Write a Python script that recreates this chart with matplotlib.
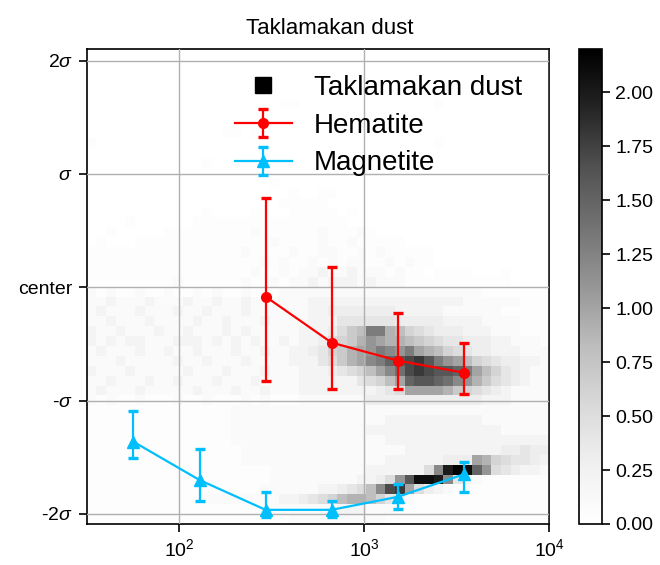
import numpy as np
import matplotlib
matplotlib.use("Agg")
import matplotlib.pyplot as plt
from matplotlib.lines import Line2D
from matplotlib.ticker import FixedLocator, NullLocator, FormatStrFormatter

plt.rcParams['font.family'] = ['Liberation Sans', 'DejaVu Sans']
plt.rcParams['mathtext.fontset'] = 'custom'
plt.rcParams['mathtext.rm'] = 'Liberation Sans'
plt.rcParams['mathtext.it'] = 'Liberation Sans:italic'
plt.rcParams['mathtext.bf'] = 'Liberation Sans:bold'

# ---------------- data ----------------
title = "Taklamakan dust"
dust_label = "Taklamakan dust"

hem_label = "Hematite"
hem_x = [293, 666, 1520, 3440]
hem_y = [-0.083, -0.489, -0.648, -0.754]
hem_lo = [-0.828, -0.901, -0.901, -0.943]
hem_hi = [0.786, 0.182, -0.230, -0.489]

mag_label = "Magnetite"
mag_x = [56.6, 128.8, 293, 666, 1520, 3440]
mag_y = [-1.364, -1.702, -1.965, -1.965, -1.850, -1.652]
mag_lo = [-1.505, -1.888, -2.028, -2.028, -1.955, -1.808]
mag_hi = [-1.090, -1.426, -1.808, -1.886, -1.738, -1.547]

y_ticks = [-2, -1, 0, 1, 2]
y_ticklabels = ['-2$\\sigma$', '-$\\sigma$', 'center', '$\\sigma$', '2$\\sigma$']
x_ticks = [1e2, 1e3, 1e4]
cbar_ticks = [0.0, 0.25, 0.5, 0.75, 1.0, 1.25, 1.5, 1.75, 2.0]
x_range = (10 ** 1.5, 1e4)
y_range = (-2.09, 2.10)
c_range = (0.0, 2.2)

# 2D density, rows from top (high y) to bottom (low y), 48 log-x columns.
# '0' = 0, '.' = 0.05, '1'..'9' = 0.1..0.9, 'a'..'m' = 1.0..2.2
hist_rows = [
    "00000000 00000000 00000000 00000000 00000000 00000000",
    "00000000 00000000 00000000 00000000 00000000 00000000",
    "00000000 00000000 00000000 00000000 00000000 00000000",
    "00000000 00000000 00.00000 00000000 00000000 00000000",
    "00000000 00000000 00000000 00000000 00000000 00000000",
    "00000000 00000000 0000..00 00000000 0000.000 00000000",
    "00000000 00000000 00000000 00000000 00000000 00000000",
    "00000000 00000000 00000000 0.000000 00000000 00000000",
    "00000000 000000.. 0.000000 00000000 00000000 00000000",
    ".0000000 00000000 00000000 00000000 0000.000 00000000",
    "00000000 00000000 00.00000 00000000 00000000 00000000",
    "00000000 0000.000 00000000 0000.000 00000000 00000000",
    "00000000 00000000 00000000 00000000 00000000 00000000",
    "00000000 00000000 000.0000 00000000 00000000 00000000",
    "00000000 00000000 00000.00 ..000000 00000000 00000000",
    "00000000 00000000 0000.... .0000000 00000000 00000000",
    "00000000 0000.000 0..00... ..0.0000 00000000 00000000",
    "0000.000 000..... ........ ...00000 00000000 00000000",
    "00.00000 ........ .1...... 1...1.00 00000000 00000000",
    "0.000... ........ ...1.... 1..1.... .0000000 00000000",
    "........ ........ 1....1.. 11..1.1. ....0000 00000000",
    "........ ........ ..1.1..1 .1.11..1 .1..0000 00000000",
    "........ ........ .1..1.11 2112111. 1..0.... 000.0000",
    "........ .1...... 1..1.112 12221211 1....... ....0000",
    "1.1..1.. 1..1.1.. 1...1111 11111111 11111111 1.......",
    "11211121 11211211 21111112 22222222 22222221 11111...",
    "12111211 12112111 21111112 23333333 22222111 111.....",
    "11211121 11121121 11211112 22444444 33333222 21111...",
    "21121112 11211121 21111122 23578dd9 86543332 22111...",
    "21212211 12221212 12112122 35679ba9 98765443 3322111.",
    "12111211 21121112 11211223 4679abdc bda98654 33222111",
    "11121111 12112111 21111222 4579acdf ghigdba8 65433221",
    "21112111 11211121 11211122 234568ac ehihggfd a8643211",
    "11211121 12111211 12111122 22224568 afggfecb 97543211",
    "12111211 11121112 11211122 22222234 5aaaa976 54321111",
    "1.1..1.. .1..1... 1.1...11 11111333 33333333 32221111",
    "........ .......1 11111111 11111111 11111111 11111111",
    "........ .......1 11111111 11111112 22222222 21111111",
    "........ .......1 11111111 11111222 22222222 22211111",
    "........ .......1 11111111 11111112 22222222 22222222",
    "........ ........ 11111111 11111111 12222222 22233433",
    "........ ........ 11111111 11111112 22222333 a9654432",
    "........ ........ ...11111 11111222 2225ckml fb543221",
    "........ ........ ...11111 11112235 bgllkc42 1.......",
    "........ ........ ..111111 223458ch ia5321.. ........",
    "........ ....1111 11112234 56899864 21...... ........",
    "........ ........ ..111111 11222111 ........ ........",
    "........ ........ .....111 1111111. ........ ........",
]


def decode(ch):
    if ch == '.':
        return 0.05
    return int(ch, 36) * 0.1


H = np.array([[decode(c) for c in r.replace(" ", "")] for r in hist_rows])
ncols = H.shape[1]
nrows = H.shape[0]

# ---------------- figure ----------------
W, Hh = 660, 565
fig = plt.figure(figsize=(W / 100, Hh / 100), dpi=100)
ax_l, ax_r, ax_t, ax_b = 86.7, 549.3, 49.3, 524.0
ax = fig.add_axes([ax_l / W, 1 - ax_b / Hh, (ax_r - ax_l) / W, (ax_b - ax_t) / Hh])
cax = fig.add_axes([579 / W, 1 - ax_b / Hh, 23 / W, (ax_b - ax_t) / Hh])

x_edges = np.logspace(np.log10(x_range[0]), np.log10(x_range[1]), ncols + 1)
y_edges = np.linspace(y_range[1], y_range[0], nrows + 1)
mesh = ax.pcolormesh(x_edges, y_edges, H, cmap='Greys', vmin=c_range[0], vmax=c_range[1],
                     shading='flat', zorder=0.5)

ax.set_xscale('log')
ax.set_xlim(*x_range)
ax.set_ylim(*y_range)

ax.errorbar(hem_x, hem_y,
            yerr=[np.array(hem_y) - np.array(hem_lo), np.array(hem_hi) - np.array(hem_y)],
            color='red', marker='o', markersize=7, linewidth=1.6, elinewidth=1.6,
            capsize=3.6, capthick=2.4, label=hem_label, zorder=3)
ax.errorbar(mag_x, mag_y,
            yerr=[np.array(mag_y) - np.array(mag_lo), np.array(mag_hi) - np.array(mag_y)],
            color='#00bfff', marker='^', markersize=8, linewidth=1.6, elinewidth=1.6,
            capsize=3.6, capthick=2.4, label=mag_label, zorder=3)

ax.grid(True, which='major', color='#b0b0b0', linewidth=1.0)
ax.set_axisbelow(False)
ax.xaxis.set_major_locator(FixedLocator(x_ticks))
ax.xaxis.set_minor_locator(NullLocator())
ax.set_yticks(y_ticks)
ax.set_yticklabels(y_ticklabels)
ax.tick_params(axis='both', labelsize=14, length=6, width=1.2, pad=4, direction='out')
for s in ax.spines.values():
    s.set_linewidth(1.2)
fig.text(0.5, 1 - 28 / Hh, title, fontsize=16, ha='center', va='center')

dust_handle = Line2D([], [], marker='s', color='black', linestyle='None', markersize=12)
h, l = ax.get_legend_handles_labels()
ax.legend([dust_handle] + h, [dust_label] + l, loc='upper right', frameon=False,
          fontsize=20, handlelength=2.05, handletextpad=0.8, labelspacing=0.42,
          borderaxespad=0.0, bbox_to_anchor=(0.965, 0.969))

cb = fig.colorbar(mesh, cax=cax)
cb.set_ticks(cbar_ticks)
cb.ax.yaxis.set_major_formatter(FormatStrFormatter('%.2f'))
cb.ax.tick_params(labelsize=14, length=6, width=1.2)
cb.outline.set_linewidth(1.2)
cb.ax.minorticks_off()

fig.savefig('out.png', dpi=100)
